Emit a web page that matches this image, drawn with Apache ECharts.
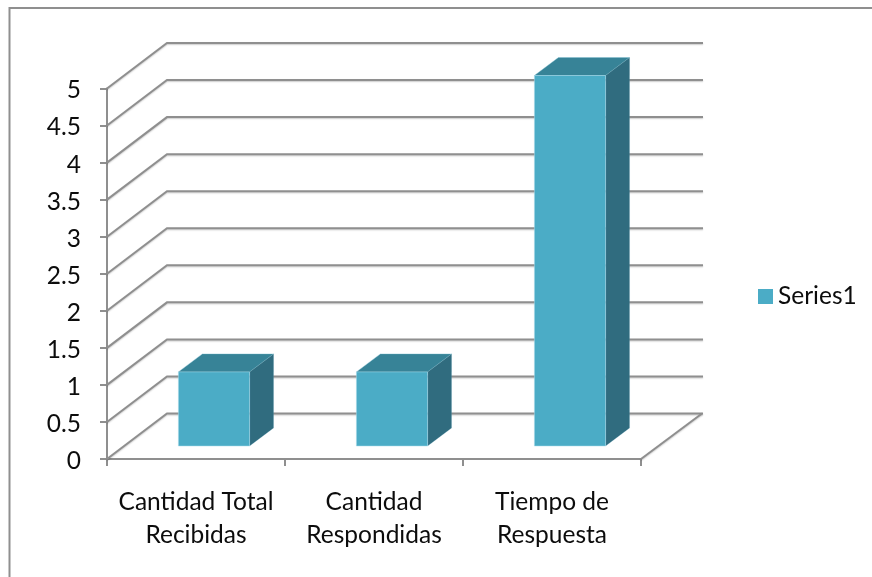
<!DOCTYPE html>
<html><head><meta charset="utf-8">
<style>html,body{margin:0;padding:0;background:#fff}#c{width:872px;height:577px}</style>
<script src="https://cdn.jsdelivr.net/npm/echarts@6/dist/echarts.min.js"></script>
</head><body><div id="c"></div>
<script>
const categories = ['Cantidad Total\nRecibidas', 'Cantidad\nRespondidas', 'Tiempo de\nRespuesta'];
const seriesName = 'Series1';
const seriesValues = [1, 1, 5];
const yTicks = [0, 0.5, 1, 1.5, 2, 2.5, 3, 3.5, 4, 4.5, 5];

const FONT = 'Lato';
const TXT = '#0c0c0c';
const LINE = '#8f8f8f';
const WALL_DX = 60, WALL_DY = 45.5;
const BAR_SHIFT_X = 18, BAR_SHIFT_Y = 13, BAR_DX = 24, BAR_DY = 18;
const shadow = {shadowBlur: 1.5, shadowOffsetY: 1, shadowColor: 'rgba(0,0,0,0.2)'};

const chart = echarts.init(document.getElementById('c'), null, {renderer: 'canvas'});
chart.setOption({
  animation: false,
  backgroundColor: '#fff',
  grid: {left: 107, top: 88.5, width: 534, height: 370.5},
  legend: {
    data: [seriesName], left: 753, top: 279, itemWidth: 15, itemHeight: 15, itemGap: 0,
    icon: 'rect', textStyle: {fontFamily: FONT, fontSize: 24.5, color: TXT, padding: [0, 0, 0, 0]}
  },
  xAxis: {
    type: 'category', data: categories, boundaryGap: true,
    axisLine: {lineStyle: {color: LINE, width: 2}},
    axisTick: {show: true, alignWithLabel: false, length: 7, lineStyle: {color: LINE, width: 2}},
    axisLabel: {fontFamily: FONT, fontSize: 24.5, color: TXT, lineHeight: 33, margin: 27, interval: 0}
  },
  yAxis: {
    type: 'value', min: 0, max: 5, interval: 0.5,
    axisLine: {show: true, lineStyle: {color: LINE, width: 2}},
    axisTick: {show: true, length: 7, lineStyle: {color: LINE, width: 2}},
    axisLabel: {fontFamily: FONT, fontSize: 24.5, color: TXT, margin: 26, verticalAlign: 'top', lineHeight: 4},
    splitLine: {show: false}
  },
  graphic: [
    {type: 'polyline', silent: true, shape: {points: [[9.5, 577], [9.5, 8], [872, 8]]},
     style: {fill: null, stroke: '#8f8f8f', lineWidth: 2}}
  ],
  series: [
    {
      type: 'custom', name: 'walls', coordinateSystem: 'cartesian2d', silent: true, clip: false, z: 1,
      data: yTicks.map(t => [0, t]),
      renderItem(params, api) {
        const cs = params.coordSys;
        const v = api.value(1);
        const y = api.coord([0, v])[1];
        const x0 = cs.x, x1 = cs.x + cs.width;
        const children = [{
          type: 'polyline',
          shape: {points: [[x0, y], [x0 + WALL_DX, y - WALL_DY], [x1 + WALL_DX + 2, y - WALL_DY]]},
          style: Object.assign({fill: null, stroke: LINE, lineWidth: 2}, shadow)
        }];
        if (v === 0) children.push({
          type: 'line',
          shape: {x1: x1, y1: y, x2: x1 + WALL_DX + 1, y2: y - WALL_DY},
          style: Object.assign({stroke: LINE, lineWidth: 2}, shadow)
        });
        return {type: 'group', children};
      }
    },
    {
      type: 'custom', name: seriesName, coordinateSystem: 'cartesian2d', clip: false, z: 3,
      itemStyle: {color: '#4BACC6'},
      data: seriesValues.map((v, i) => [i, v]),
      renderItem(params, api) {
        const i = api.value(0), v = api.value(1);
        const band = api.size([1, 0])[0];
        const w = band * 0.4;
        const cx = api.coord([i, 0])[0] + BAR_SHIFT_X;
        const yb = api.coord([i, 0])[1] - BAR_SHIFT_Y;
        const yt = api.coord([i, v])[1] - BAR_SHIFT_Y;
        const l = cx - w / 2, r = cx + w / 2;
        return {type: 'group', children: [
          {type: 'polygon', shape: {points: [[l, yt], [r, yt], [r + BAR_DX, yt - BAR_DY], [l + BAR_DX, yt - BAR_DY]]},
           style: {fill: '#378397', stroke: 'rgba(120,190,210,0.35)', lineWidth: 1}},
          {type: 'polygon', shape: {points: [[r, yt], [r + BAR_DX, yt - BAR_DY], [r + BAR_DX, yb - BAR_DY], [r, yb]]},
           style: {fill: '#306C7F', stroke: 'rgba(120,190,210,0.15)', lineWidth: 1}},
          {type: 'rect', shape: {x: l, y: yt, width: w, height: yb - yt},
           style: {fill: '#4BACC6', stroke: 'rgba(170,220,235,0.5)', lineWidth: 1}}
        ]};
      }
    }
  ]
});
</script></body></html>
